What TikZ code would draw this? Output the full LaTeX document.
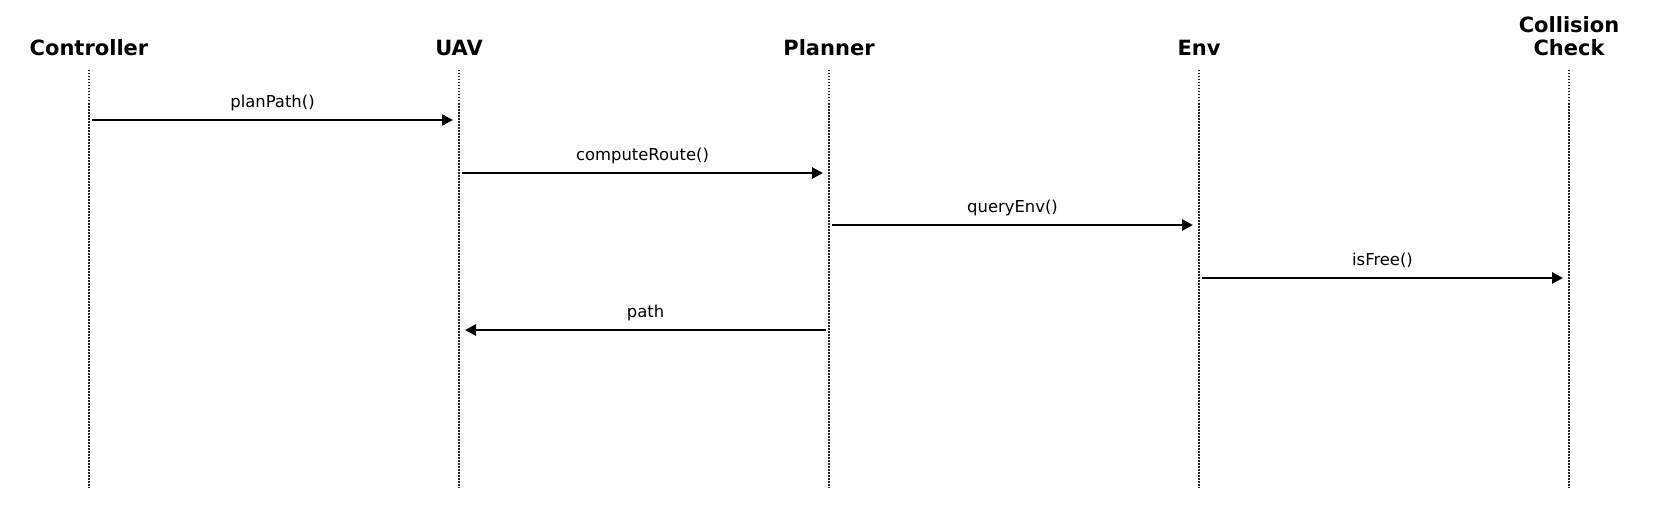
\documentclass[tikz,border=0pt]{standalone}
\usepackage{fontspec}
\setmainfont{DejaVu Sans}
\usetikzlibrary{arrows.meta}
\begin{document}
\begin{tikzpicture}[x=0.5pt,y=-0.5pt,
  header/.style={anchor=base,inner sep=0pt,align=center,font=\fontsize{10.5pt}{11.6pt}\selectfont\bfseries},
  lifeline/.style={draw=black!85,line width=0.8pt,dash pattern=on 0.75pt off 0.75pt},
  msg/.style={draw=black,line width=1.3pt,-{Triangle[length=5.5pt,width=5.5pt]}},
  msglabel/.style={midway,anchor=base,yshift=6.3pt,inner sep=0pt,font=\fontsize{8.2pt}{10pt}\selectfont}]
\useasboundingbox (0,0) rectangle (1657,524);
% headers
\node[header] (hC) at (89,56) {Controller};
\node[header] (hU) at (459,56) {UAV};
\node[header] (hP) at (829,56) {Planner};
\node[header] (hE) at (1199,56) {Env};
\node[header,anchor=south] (hK) at (1569,56) {Collision\\Check};
% lifelines
\foreach \n/\x in {C/89,U/459,P/829,E/1199,K/1569}{
  \coordinate (\n top) at (\x,70);
  \coordinate (\n bot) at (\x,488);
  \draw[lifeline] (\n top) -- (\n bot);
}
% message points
\foreach \n/\x in {C/89,U/459,P/829,E/1199,K/1569}{
  \coordinate (\n1) at (\x,120);
  \coordinate (\n2) at (\x,173);
  \coordinate (\n3) at (\x,225);
  \coordinate (\n4) at (\x,278);
  \coordinate (\n5) at (\x,330);
}
\draw[msg] ([xshift=1.5pt]C1) -- node[msglabel] {planPath()} ([xshift=-3pt]U1);
\draw[msg] ([xshift=1.5pt]U2) -- node[msglabel] {computeRoute()} ([xshift=-3pt]P2);
\draw[msg] ([xshift=1.5pt]P3) -- node[msglabel] {queryEnv()} ([xshift=-3pt]E3);
\draw[msg] ([xshift=1.5pt]E4) -- node[msglabel] {isFree()} ([xshift=-3pt]K4);
\draw[msg] ([xshift=-1.5pt]P5) -- node[msglabel] {path} ([xshift=3pt]U5);
\end{tikzpicture}
\end{document}
